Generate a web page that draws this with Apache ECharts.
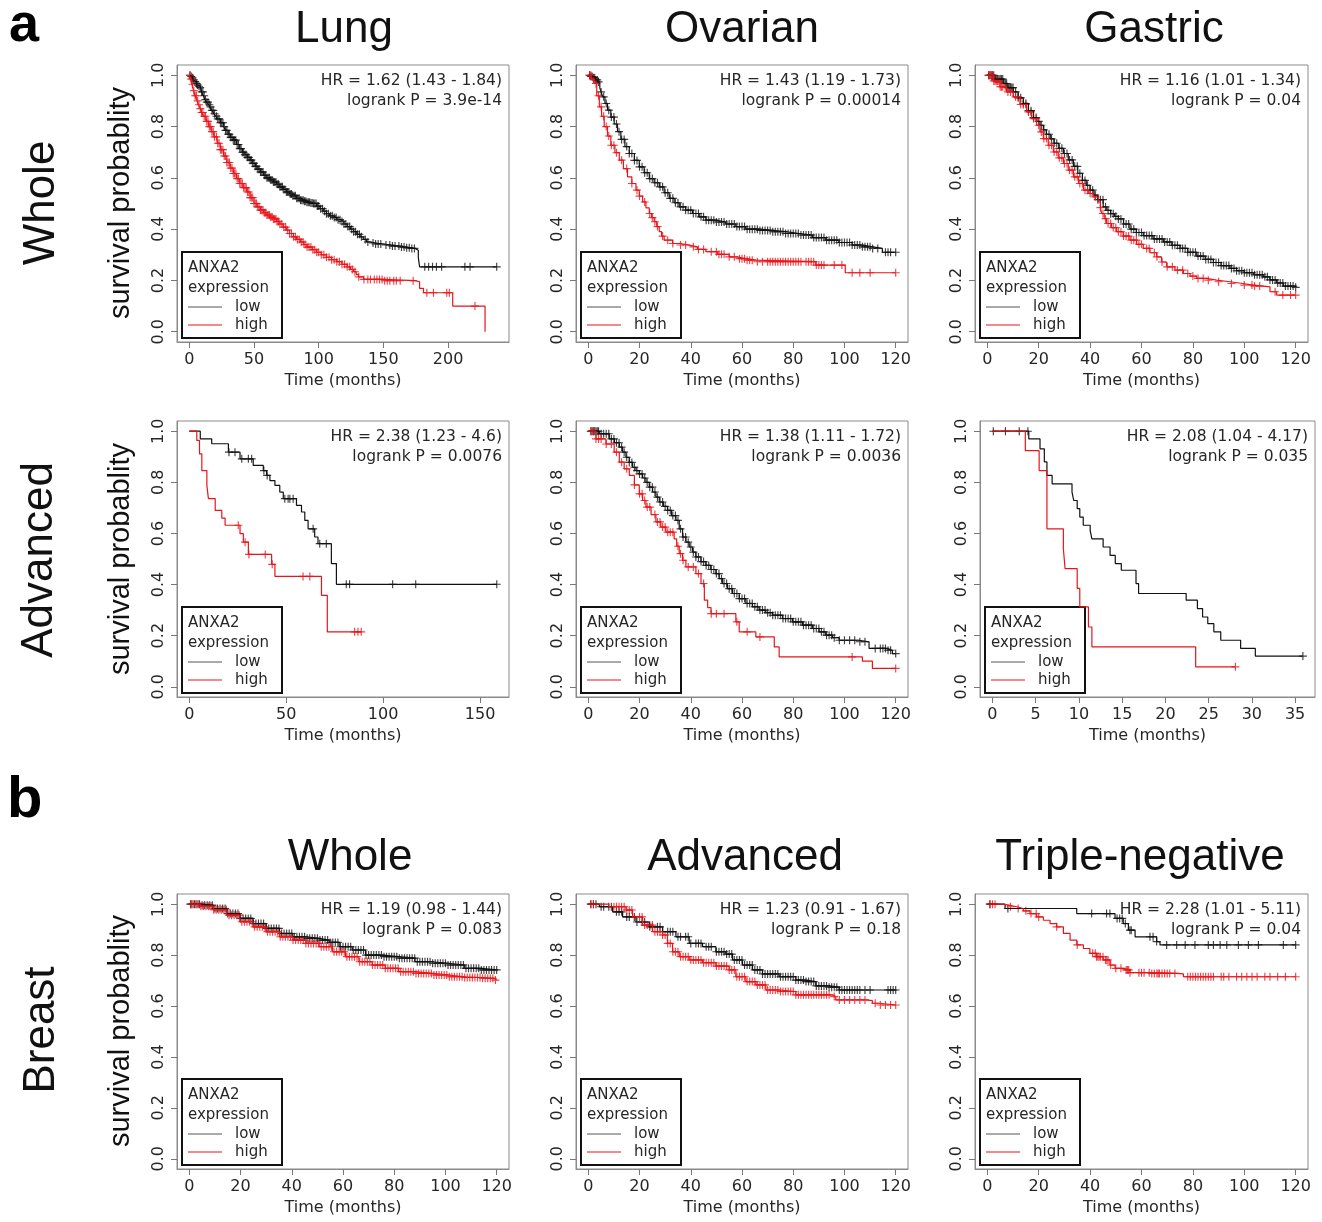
<!DOCTYPE html>
<html style="height: 100%;">
  <head>
    <meta charset="utf-8" />
    <script src="https://cdn.jsdelivr.net/npm/echarts/dist/echarts.min.js"></script>
  </head>
  <body style="height: 100%; margin: 0; background: #fff;">
    <div id="container" style="width: 1322px; height: 1222px;"></div>
    <script type="text/javascript">
      // ---- data: [time in months, survival] at each step ----
      var lungWholeLow = [[0,1],[1,0.995],[2,0.99],[3,0.982],[4,0.975],[5,0.968],[6,0.962],[7,0.957],[8.5,0.952],[9.5,0.935],[11,0.92],[12,0.905],[13.5,0.895],[15,0.885],[16,0.877],[17.5,0.863],[19,0.85],[20.5,0.84],[22,0.83],[24,0.815],[26.5,0.80],[28,0.785],[30,0.77],[32,0.758],[34,0.747],[36.5,0.73],[39,0.714],[41,0.70],[43,0.69],[45,0.68],[47,0.669],[49,0.657],[51,0.645],[53,0.634],[55,0.623],[57.5,0.61],[60,0.60],[62.5,0.592],[65,0.584],[67.5,0.575],[70,0.565],[72.5,0.555],[75,0.545],[77.5,0.537],[80,0.53],[83,0.52],[86,0.513],[88.5,0.509],[91,0.505],[93.5,0.502],[96,0.50],[98.5,0.49],[101,0.48],[103.5,0.47],[106,0.46],[108.5,0.452],[111,0.445],[114,0.437],[117,0.43],[119.5,0.42],[122,0.41],[124.5,0.40],[127,0.39],[129.5,0.38],[132,0.37],[134.5,0.36],[137,0.35],[140,0.346],[144,0.342],[150,0.338],[156,0.334],[163,0.33],[168,0.327],[172,0.325],[174.5,0.318],[177,0.29],[178,0.253],[237.6,0.253]];
      var lungWholeHigh = [[0,1],[1,0.985],[2,0.965],[3.3,0.94],[4.5,0.92],[6,0.90],[7,0.885],[8.5,0.87],[9.5,0.855],[11,0.84],[13,0.82],[15,0.80],[17,0.78],[19,0.76],[21.5,0.735],[24,0.71],[26.5,0.685],[29,0.66],[31.5,0.638],[34,0.617],[36.5,0.597],[39,0.578],[41.5,0.562],[44.5,0.545],[47,0.523],[50,0.50],[52.5,0.487],[55,0.474],[57.5,0.464],[60,0.455],[62.5,0.447],[65,0.44],[67.5,0.43],[70,0.42],[72.5,0.408],[75,0.396],[77.5,0.383],[80.5,0.37],[83,0.36],[86,0.35],[88.5,0.34],[91,0.33],[95,0.32],[98.5,0.31],[102,0.30],[106,0.29],[110,0.281],[114,0.273],[118,0.263],[122,0.253],[124.5,0.243],[127,0.234],[129,0.224],[130.7,0.214],[134.6,0.204],[150,0.199],[174.5,0.195],[178,0.169],[181,0.152],[203.6,0.10],[228.6,0]];
      var lungWholeLowCens = [0.5,1.5,2.5,3.5,4.5,5.5,6.5,7.5,8.5,9.5,10.5,11.5,12.5,13.5,14.5,15.5,16.5,17.5,18.5,19.5,21,22,23,24,25,26,27,28,29,30,31,32,33,34,35,36,37,38,39,40,41,42,43,44,45,46,47,48,49,50,51,52,53,54,55,56,57,58,59,60,61,62,63,64,65,66,67,68,69,70,71,72,73,74,75,76,77,78,79,80,81,82,83,84,85,86,87,88,89,90,91,92,93,94,95,96,97,98,99,100,101.5,103,104.5,106,107.5,109,110.5,112,113.5,115,116.5,118,119.5,121,122.5,124,125.5,127,128.5,130,131.5,133,136,138,142,144,146,148,152,155,157,159,162,164,166,168,170,172,174,182,185,188,191,195,213,217,237.6];
      var lungWholeHighCens = [0.5,1.5,2.5,3.5,4.5,5.5,6.5,7.5,8.5,9.5,10.5,11.5,12.5,13.5,14.5,15.5,16.5,17.5,18.5,19.5,21,22,23,24,25,26,27,28,29,30,31,32,33,34,35,36,37,38,39,40,41,42,43,44,45,46,47,48,49,50,51,52,53,54,55,56,57,58,59,60,61,62,63,64,65,66,67,68,69,70,71.5,73,74.5,76,77.5,79,80.5,82,83.5,85,86.5,88,89.5,91,92.5,94,95.5,97,98.5,100,102,104,106,108,110,112,114,116,118,120,122,124,126,128,131,135,138,140,143,145,147,149,151,153,155,158,160,163,173,183.6,188.7,199,201,220.8];

      var ovWholeLow = [[0,1],[1,0.995],[2,0.99],[2.8,0.982],[3.6,0.974],[4.5,0.95],[5,0.935],[5.6,0.916],[6.5,0.89],[7.5,0.864],[8.8,0.837],[10.1,0.81],[11.4,0.78],[12.7,0.75],[14.3,0.722],[16,0.695],[18,0.668],[19.9,0.643],[21.8,0.62],[23.8,0.597],[25.7,0.581],[27.7,0.565],[29.6,0.542],[31.6,0.52],[33.5,0.503],[35.5,0.487],[38,0.474],[40.7,0.461],[43.3,0.448],[45.9,0.435],[49.8,0.428],[53.7,0.42],[57.6,0.41],[61.5,0.40],[66.7,0.395],[71.9,0.39],[77,0.383],[82.3,0.377],[87.5,0.367],[92.7,0.357],[97.8,0.348],[103,0.338],[107,0.331],[111,0.325],[114.8,0.31],[120,0.31]];
      var ovWholeHigh = [[0,1],[1.2,0.985],[2.3,0.968],[3.3,0.92],[4.3,0.877],[5.2,0.84],[6.2,0.80],[7.5,0.763],[8.8,0.727],[10.4,0.698],[12.1,0.669],[13.7,0.636],[15.3,0.604],[17,0.578],[18.6,0.552],[19.9,0.529],[21.2,0.506],[22.5,0.483],[23.8,0.461],[24.7,0.445],[25.7,0.429],[26.7,0.41],[27.7,0.39],[28.6,0.373],[29.6,0.357],[32.9,0.344],[36,0.338],[39.4,0.331],[42.6,0.321],[45.9,0.312],[50.5,0.302],[55,0.292],[58,0.285],[61.5,0.279],[65.4,0.273],[88.8,0.26],[100.3,0.23],[120,0.23]];
      var ovWholeLowCens = [0.5,1,1.5,2,2.5,3,3.5,4,5,6,7,8,9,10,11,12,13,14,15,16,17,18,19,20,21,22,23,24,25,26,27,28,29,30,31,32,33,34,35,36,37,38,39,40,41,42,43,44,45,46,47,48,49,50,51,52,53,54,55,56,57,58,59,60,61,62,63,64,65,66,67,68,69,70,71,72,73,74,75,76,77,78,79,80,81,82,83,84,85,86,87,88,89,90,91,92,93,94,95,96,97,98,99,100,101,102,103,104,105,106,107,108,109,110,111,113,116,117,118,120];
      var ovWholeHighCens = [0.5,1,2,3,4,5,6,7,8,9,10,11,13,15,17,19,20,22,24,25,26,27,29,31,33,36,38,41,43,45,48,50,51,52,53,55,57,59,60,61,62,63,64,66,68,70,71,72,73,74,75,76,77,78,79,80,81,82,83,85,86,87,88,89,90,91,92,96,99,103,106,110,120];

      var gaWholeLow = [[0,1],[3,0.985],[6.2,0.968],[8,0.952],[10.1,0.935],[12,0.912],[14,0.89],[16,0.862],[17.9,0.835],[19.2,0.82],[20.5,0.805],[21.8,0.787],[23,0.77],[24.5,0.752],[26,0.735],[27.8,0.715],[29.6,0.695],[31.5,0.67],[33.5,0.645],[35.2,0.618],[37,0.59],[38.5,0.571],[40,0.552],[41.5,0.533],[43,0.515],[45.1,0.487],[46.5,0.473],[48,0.46],[49.5,0.45],[51,0.44],[53,0.42],[55.5,0.40],[58,0.387],[60.7,0.375],[64.5,0.362],[68.5,0.35],[71.8,0.337],[75,0.325],[78,0.31],[81.5,0.295],[84.8,0.282],[88,0.27],[91,0.258],[94.4,0.247],[97,0.238],[100,0.23],[103.7,0.222],[107.4,0.214],[110,0.202],[112.6,0.19],[115.2,0.178],[120,0.173]];
      var gaWholeHigh = [[0,1],[2.5,0.978],[4.9,0.955],[7.5,0.935],[10.1,0.916],[12.7,0.886],[15.3,0.857],[17.2,0.831],[19.2,0.805],[20.5,0.779],[21.8,0.753],[23.7,0.727],[25.7,0.701],[27.6,0.678],[29.6,0.656],[31.5,0.63],[33.5,0.604],[35.5,0.578],[37.4,0.552],[39.3,0.539],[41.2,0.526],[43.2,0.506],[44,0.484],[44.5,0.461],[45.5,0.441],[46.4,0.422],[48.3,0.406],[50.3,0.39],[52.9,0.373],[55.5,0.357],[58.1,0.341],[60.7,0.325],[63.3,0.308],[65.9,0.292],[67.8,0.272],[69.8,0.253],[73,0.24],[76.3,0.227],[78.9,0.217],[81.5,0.208],[85.3,0.201],[89.2,0.195],[94.4,0.188],[99.6,0.182],[103.5,0.178],[107.4,0.175],[110,0.156],[112.6,0.143],[120,0.143]];
      var gaWholeLowCens = [0.5,1,1.5,2,2.5,3,3.5,4,4.5,5,5.5,6,6.5,7,7.5,8,8.5,9,9.5,10,11,12,13,14,15,16,17,18,19,20,21,22,23,24,25,26,27,28,29,30,31,32,33,34,35,36,37,38,39,40,41,42,43,44,45,46,47,48,49,50,51,52,53,54,55,56,57,58,59,60,61,62,63,64,65,66,67,68,69,70,71,72,73,74,75,76,77,78,79,80,81,82,83,84,85,86,87,88,89,90,91,92,93,94,95,96,97,98,99,100,101,102,103,104,105,106,107,108,109,110,111,112,113,114,115,116,117,118,119,120];
      var gaWholeHighCens = [0.5,1,1.5,2,2.5,3,3.5,4,4.5,5,5.5,6,7,8,9,10,11,12,13,14,15,16,17,18,19,20,21,22,23,24,25,26,27,28,29,30,31,32,33,34,35,36,37,38,39,40,42,44,45,46,47,48,49,50,51,52,53,54,55,56,57,58,59,60,62,63,65,66,68,70,72,74,76,78,80,82,84,86,90,95,100,103,104,106,112,115,118,120];

      var luAdvLow = [[0,1],[5.7,0.97],[11.6,0.951],[20.2,0.918],[26.2,0.892],[33,0.866],[38.2,0.846],[39.9,0.827],[41.6,0.807],[44.2,0.788],[46.7,0.762],[48.5,0.736],[55.3,0.71],[57.9,0.684],[59.6,0.651],[61.3,0.618],[64.7,0.586],[66.4,0.56],[73.3,0.482],[75.9,0.401],[158.6,0.401]];
      var luAdvHigh = [[0,1],[3.9,0.964],[5.3,0.911],[6.5,0.846],[9.1,0.788],[9.9,0.736],[13.4,0.69],[16.8,0.66],[18.5,0.632],[26.2,0.599],[27.9,0.566],[30.5,0.518],[42.5,0.479],[44.2,0.432],[68.2,0.358],[71.2,0.215],[88.7,0.215]];
      var luAdvLowCens = [20.5,23.6,27.1,30.5,32.2,38.5,40.2,49.3,51,51.9,53.6,63.9,67.3,70.7,81,82.7,104.9,116.8,158.6];
      var luAdvHighCens = [25.3,28.8,30.8,39.2,42.8,58.7,62.2,85.3,87,88.7];

      var ovAdvLow = [[0,1],[4.3,0.99],[8.2,0.97],[10.2,0.955],[12.1,0.9375],[13.4,0.918],[14.7,0.898],[16,0.878],[17.3,0.859],[18.6,0.846],[19.9,0.833],[21.2,0.817],[22.5,0.80],[23.8,0.781],[25.1,0.762],[26.4,0.742],[27.7,0.723],[29.3,0.706],[30.9,0.69],[32.5,0.67],[34.2,0.651],[35.5,0.618],[36.8,0.586],[38.1,0.566],[39.4,0.547],[40.7,0.527],[42,0.508],[44,0.49],[45.9,0.475],[47.8,0.459],[49.8,0.443],[51.1,0.423],[52.4,0.404],[54.3,0.384],[56.3,0.365],[58.9,0.345],[61.5,0.326],[64.1,0.313],[66.7,0.30],[69.3,0.29],[71.9,0.28],[75.8,0.267],[79.7,0.254],[83.6,0.241],[87.5,0.228],[90.1,0.215],[92.7,0.202],[95.3,0.192],[97.9,0.182],[105.7,0.176],[109.6,0.15],[116.1,0.143],[118.7,0.13],[120,0.13]];
      var ovAdvHigh = [[0,1],[3,0.97],[6.9,0.95],[10.1,0.918],[12.1,0.879],[14,0.853],[16,0.827],[18,0.79],[19.9,0.755],[21.2,0.729],[22.5,0.703],[24.5,0.674],[26.4,0.645],[28.3,0.625],[30.3,0.605],[33.5,0.579],[34.5,0.55],[35.5,0.521],[36.8,0.495],[38.1,0.469],[42,0.443],[44,0.404],[45.3,0.339],[46.6,0.31],[47.9,0.286],[57.6,0.254],[58.9,0.215],[65.4,0.195],[72.6,0.156],[74.5,0.117],[107,0.10],[110.9,0.072],[120,0.072]];
      var ovAdvLowCens = [1,1.5,2,2.5,3,3.5,4,5,6,7,8,9,10,11,12,13,14,15,16,17,18,19,20,21,22,23,24,25,26,27,28,29,30,31,32,33,34,35,36,37,38,39,40,41,42,43,44,45,46,47,48,49,50,51,52,53,54,55,56,57,58,59,60,61,62,63,64,65,66,67,68,69,70,71,72,73,74,75,76,77,78,79,80,81,82,83,84,85,86,87,88,89,90,91,92,93,94,95,96,98,100,102,104,106,108,112,114,115,116,117,118,120];
      var ovAdvHighCens = [1,2,3,4,5,7,9,11,13,15,18,20,21,22,23,24,26,27,28,29,30,31,32,33,35,36,37,39,41,43,45,48,50,53,58,62,67,103,120];

      var gaAdvLow = [[0,1],[4.2,0.97],[5.5,0.931],[6,0.88],[6.3,0.827],[6.9,0.794],[9.2,0.762],[9.4,0.729],[9.8,0.697],[10.1,0.664],[10.5,0.632],[11.3,0.612],[11.5,0.579],[12.8,0.547],[13.6,0.514],[14.2,0.482],[14.9,0.456],[16.6,0.404],[16.9,0.365],[22.4,0.339],[23.7,0.306],[24.3,0.273],[24.9,0.247],[25.6,0.215],[26.4,0.182],[28.7,0.15],[30.4,0.12],[35.9,0.12]];
      var gaAdvHigh = [[0,1],[3.8,0.924],[5.4,0.846],[6.3,0.618],[8.2,0.54],[8.4,0.462],[9.8,0.385],[10.1,0.3125],[11.1,0.234],[11.5,0.156],[23.5,0.078],[28.1,0.078]];
      var gaAdvLowCens = [0.1,1.5,3.1,4.1,35.9];
      var gaAdvHighCens = [28.1];

      var brWholeLow = [[0,1],[4.3,0.996],[9.4,0.983],[14.6,0.963],[19.7,0.944],[24.9,0.924],[30,0.905],[35.2,0.885],[40.4,0.872],[45.5,0.866],[50.7,0.859],[54.6,0.85],[58.5,0.833],[63.6,0.82],[68.8,0.80],[75.2,0.794],[81.7,0.788],[88.1,0.774],[94.6,0.768],[101,0.761],[107.5,0.748],[113.9,0.742],[120,0.742]];
      var brWholeHigh = [[0,1],[4.3,0.992],[9.4,0.978],[14.6,0.957],[19.7,0.931],[24.9,0.911],[30,0.892],[35.2,0.872],[40.4,0.859],[45.5,0.846],[50.7,0.833],[55.9,0.813],[61,0.794],[66.2,0.774],[71.4,0.761],[76.5,0.748],[81.7,0.735],[88.1,0.728],[94.6,0.722],[101,0.715],[107.5,0.712],[113.9,0.709],[119,0.702],[120,0.702]];
      var brWholeLowCens = [0.5,1,2,3,4,5,6,7,8,9,10,11,12,13,14,15,16,17,18,19,20,21,22,23,24,25,26,27,28,29,30,31,32,33,34,35,36,37,38,39,40,41,42,43,44,45,46,47,48,49,50,51,52,53,54,55,56,57,58,59,60,61,62,63,64,65,66,67,68,69,70,71,72,73,74,75,76,77,78,79,80,81,82,83,84,85,86,87,88,89,90,91,92,93,94,95,96,97,98,99,100,101,102,103,104,105,106,107,108,109,110,111,112,113,114,115,116,117,118,119,120];
      var brWholeHighCens = [0.5,1.5,2.5,3.5,4.5,5.5,6.5,7.5,8.5,9.5,10.5,11.5,12.5,13.5,14.5,15.5,16.5,17.5,18.5,19.5,20.5,21.5,22.5,23.5,24.5,25.5,26.5,27.5,28.5,29.5,30.5,31.5,32.5,33.5,34.5,35.5,36.5,37.5,38.5,39.5,40.5,41.5,42.5,43.5,44.5,45.5,46.5,47.5,48.5,49.5,50.5,51.5,52.5,53.5,54.5,55.5,56.5,57.5,58.5,59.5,60.5,61.5,62.5,63.5,64.5,65.5,66.5,67.5,68.5,69.5,70.5,71.5,72.5,73.5,74.5,75.5,76.5,77.5,78.5,79.5,80.5,81.5,82.5,83.5,84.5,85.5,86.5,87.5,88.5,89.5,90.5,91.5,92.5,93.5,94.5,95.5,96.5,97.5,98.5,99.5,100.5,101.5,102.5,103.5,104.5,105.5,106.5,107.5,108.5,109.5,110.5,111.5,112.5,113.5,114.5,115.5,116.5,117.5,118.5,119.5];

      var brAdvLow = [[0,1],[4.3,0.99],[9.5,0.97],[13.4,0.95],[18.6,0.93],[23.8,0.911],[29,0.892],[34.2,0.872],[39.4,0.846],[44.6,0.833],[49.8,0.813],[53.7,0.804],[56.3,0.781],[60.2,0.761],[64.1,0.742],[68,0.726],[74.5,0.715],[81,0.702],[84.9,0.696],[88.8,0.679],[94,0.674],[97.9,0.663],[120,0.663]];
      var brAdvHigh = [[0,1],[8,0.99],[14.7,0.977],[17.3,0.95],[21.2,0.918],[25.1,0.892],[29,0.879],[30.9,0.846],[32.9,0.813],[35.5,0.794],[39.4,0.781],[44.6,0.77],[49.8,0.757],[55,0.742],[57.6,0.715],[61.5,0.696],[65.4,0.683],[69.3,0.663],[74.5,0.657],[81,0.644],[95.3,0.637],[96.6,0.624],[108.3,0.621],[110.9,0.611],[113.5,0.604],[120,0.604]];
      var brAdvLowCens = [1,2,3,5,6,8,9,11,12,13,15,16,18,19,21,22,24,25,27,28,29,31,32,33,35,36,38,39,40,42,43,44,46,47,48,50,51,52,53,54,55,56,57,58,59,60,61,62,63,64,65,66,67,68,69,70,71,72,73,74,75,76,77,78,79,80,81,82,83,84,85,86,87,88,89,90,91,92,93,94,95,96,97,98,99,100,101,102,103,104,105,106,108,110,117,118,119,120];
      var brAdvHighCens = [1,2,10,11,12,13,14,15,16,17,18,20,21,22,23,24,25,26,27,28,29,30,31,32,33,34,35,36,37,38,39,40,41,42,43,44,45,46,47,48,49,50,51,52,53,54,55,56,57,58,59,60,61,62,63,64,65,66,67,68,69,70,71,72,73,74,75,76,77,78,79,80,81,82,83,84,85,86,87,88,89,90,91,92,93,94,96,98,100,102,104,106,108,112,114,116,118,120];

      var tnLow = [[0,1],[6.9,0.983],[34.8,0.963],[49.7,0.944],[52.9,0.924],[54.9,0.898],[57.5,0.872],[65.9,0.853],[67.2,0.84],[120,0.84]];
      var tnHigh = [[0,1],[6,0.995],[8.8,0.99],[11.4,0.983],[14,0.974],[16.6,0.963],[19.2,0.95],[21.8,0.937],[24.4,0.924],[27,0.911],[29.6,0.885],[32.2,0.859],[34.8,0.84],[37.4,0.826],[39.9,0.807],[42.5,0.794],[45.1,0.781],[47.7,0.761],[49.7,0.748],[52.9,0.742],[55.5,0.731],[63.3,0.728],[73.7,0.726],[76.3,0.715],[120,0.715]];
      var tnLowCens = [1,8,40.6,46.4,47.7,50.5,51.5,52.5,53.7,55.5,56,63.3,64.5,65.9,69.8,73.7,77,80.8,86,88,90.6,93.2,97.7,101.6,105.5,115.2,120];
      var tnHighCens = [1,2,3,9,12,15,17,19,20,27,35,41,42,42.5,43,43.5,44,45,46,46.5,47,48,50,52,54,54.5,55,55.5,59,60,61,63,64,65,66,66.5,67,68,69,70,71,73,78,79,80,81,82,83,84,85,86,87,88,91,92,94,97,99,101,103,105,108,110,113,116,120];

      // ---- labels ----
      var hrText = ["HR = 1.62 (1.43 - 1.84)", "HR = 1.43 (1.19 - 1.73)", "HR = 1.16 (1.01 - 1.34)",
                    "HR = 2.38 (1.23 - 4.6)", "HR = 1.38 (1.11 - 1.72)", "HR = 2.08 (1.04 - 4.17)",
                    "HR = 1.19 (0.98 - 1.44)", "HR = 1.23 (0.91 - 1.67)", "HR = 2.28 (1.01 - 5.11)"];
      var pText = ["logrank P = 3.9e-14", "logrank P = 0.00014", "logrank P = 0.04",
                   "logrank P = 0.0076", "logrank P = 0.0036", "logrank P = 0.035",
                   "logrank P = 0.083", "logrank P = 0.18", "logrank P = 0.04"];
      var colTitles = ["Lung", "Ovarian", "Gastric", "Whole", "Advanced", "Triple-negative"];
      var rowTitles = ["Whole", "Advanced", "Breast"];
      var yTicks = [0, 0.2, 0.4, 0.6, 0.8, 1.0];
      var xTicks120 = [0, 20, 40, 60, 80, 100, 120];
      var xTicksLung = [0, 50, 100, 150, 200];
      var xTicksLungAdv = [0, 50, 100, 150];
      var xTicksGaAdv = [0, 5, 10, 15, 20, 25, 30, 35];

      // ---- layout ----
      var panels = [
        { box: [177, 65, 332, 277], x: [-9.5, 247.1], ticks: xTicksLung, low: lungWholeLow, high: lungWholeHigh, lc: lungWholeLowCens, hc: lungWholeHighCens },
        { box: [576, 65, 332, 277], x: [-4.8, 124.8], ticks: xTicks120, low: ovWholeLow, high: ovWholeHigh, lc: ovWholeLowCens, hc: ovWholeHighCens },
        { box: [975, 65, 333, 277], x: [-4.8, 124.8], ticks: xTicks120, low: gaWholeLow, high: gaWholeHigh, lc: gaWholeLowCens, hc: gaWholeHighCens },
        { box: [177, 421, 332, 276], x: [-6.3, 164.9], ticks: xTicksLungAdv, low: luAdvLow, high: luAdvHigh, lc: luAdvLowCens, hc: luAdvHighCens },
        { box: [576, 421, 332, 276], x: [-4.8, 124.8], ticks: xTicks120, low: ovAdvLow, high: ovAdvHigh, lc: ovAdvLowCens, hc: ovAdvHighCens },
        { box: [980, 421, 335, 276], x: [-1.44, 37.3], ticks: xTicksGaAdv, low: gaAdvLow, high: gaAdvHigh, lc: gaAdvLowCens, hc: gaAdvHighCens },
        { box: [177, 894, 332, 275], x: [-4.8, 124.8], ticks: xTicks120, low: brWholeLow, high: brWholeHigh, lc: brWholeLowCens, hc: brWholeHighCens },
        { box: [576, 894, 332, 275], x: [-4.8, 124.8], ticks: xTicks120, low: brAdvLow, high: brAdvHigh, lc: brAdvLowCens, hc: brAdvHighCens },
        { box: [975, 894, 333, 275], x: [-4.8, 124.8], ticks: xTicks120, low: tnLow, high: tnHigh, lc: tnLowCens, hc: tnHighCens }
      ];

      var LOW = "#111111";
      var HIGH = "#e8141a";
      var TXT = "#262626";
      var R_FONT = "DejaVu Sans";
      var H_FONT = "Liberation Sans";
      var PLUS = "path://M3,0h1v3h3v1h-3v3h-1v-3h-3v-1h3z";

      function survAt(curve, t) {
        var s = 1;
        for (var i = 0; i < curve.length; i++) {
          if (curve[i][0] <= t) s = curve[i][1];
        }
        return s;
      }

      var grids = [], xAxes = [], yAxes = [], series = [], graphics = [];

      panels.forEach(function (p, i) {
        var b = p.box;
        grids.push({ left: b[0], top: b[1], width: b[2], height: b[3], show: true, borderColor: "#8a8a8a", borderWidth: 1, containLabel: false });
        xAxes.push({
          gridIndex: i, type: "value", min: p.x[0], max: p.x[1],
          name: "Time (months)", nameLocation: "middle", nameGap: 31,
          nameTextStyle: { fontFamily: R_FONT, fontSize: 16, color: TXT },
          axisLine: { show: true, onZero: false, lineStyle: { color: "#8a8a8a" } },
          axisTick: { show: true, length: 6, customValues: p.ticks, lineStyle: { color: "#777" } },
          axisLabel: { customValues: p.ticks, margin: 10, fontFamily: R_FONT, fontSize: 16, color: TXT },
          splitLine: { show: false }
        });
        yAxes.push({
          gridIndex: i, type: "value", min: -0.04, max: 1.04,
          axisLine: { show: true, onZero: false, lineStyle: { color: "#8a8a8a" } },
          axisTick: { show: true, length: 6, customValues: yTicks, lineStyle: { color: "#777" } },
          axisLabel: { customValues: yTicks, rotate: 90, margin: 10, fontFamily: R_FONT, fontSize: 16, color: TXT,
                       formatter: function (v) { return v.toFixed(1); } },
          splitLine: { show: false }
        });
        [[p.low, p.lc, LOW], [p.high, p.hc, HIGH]].forEach(function (g) {
          series.push({
            type: "line", xAxisIndex: i, yAxisIndex: i, step: "end", showSymbol: false,
            data: g[0], lineStyle: { color: g[2], width: 1.2 }, itemStyle: { color: g[2] }, silent: true
          });
          series.push({
            type: "scatter", xAxisIndex: i, yAxisIndex: i, symbol: PLUS, symbolSize: 8,
            data: g[1].map(function (t) { return [t, survAt(g[0], t)]; }),
            itemStyle: { color: g[2] }, silent: true
          });
        });

        // HR / logrank text, top right inside the box
        var rx = b[0] + b[2] - 7;
        graphics.push({ type: "text", x: rx, y: b[1] + 16, style: { text: hrText[i], fill: TXT, font: "15.5px '" + R_FONT + "'", textAlign: "right", textVerticalAlign: "middle" } });
        graphics.push({ type: "text", x: rx, y: b[1] + 36, style: { text: pText[i], fill: TXT, font: "15.5px '" + R_FONT + "'", textAlign: "right", textVerticalAlign: "middle" } });

        // legend box, bottom left inside the box
        var lx = b[0] + 5, ly = b[1] + b[3] - 4 - 86;
        graphics.push({ type: "rect", shape: { x: lx, y: ly, width: 100, height: 86 }, style: { fill: "#fff", stroke: "#111", lineWidth: 2 } });
        [["ANXA2", 16], ["expression", 36]].forEach(function (t) {
          graphics.push({ type: "text", x: lx + 6, y: ly + t[1], style: { text: t[0], fill: TXT, font: "15px '" + R_FONT + "'", textAlign: "left", textVerticalAlign: "middle" } });
        });
        [["low", 55, "#555"], ["high", 73, HIGH]].forEach(function (t) {
          graphics.push({ type: "line", shape: { x1: lx + 6, y1: ly + t[1], x2: lx + 40, y2: ly + t[1] }, style: { stroke: t[2], lineWidth: 1 } });
          graphics.push({ type: "text", x: lx + 53, y: ly + t[1], style: { text: t[0], fill: TXT, font: "15px '" + R_FONT + "'", textAlign: "left", textVerticalAlign: "middle" } });
        });
      });

      // column titles
      var titlePos = [[344, 30], [742, 30], [1154, 30], [350, 858], [745, 858], [1140, 858]];
      colTitles.forEach(function (t, k) {
        graphics.push({ type: "text", x: titlePos[k][0], y: titlePos[k][1], style: { text: t, fill: "#111", font: "44px '" + H_FONT + "'", textAlign: "center", textVerticalAlign: "middle" } });
      });
      // row titles (vertical)
      var rowPos = [[42, 203], [40, 560], [42, 1030]];
      rowTitles.forEach(function (t, k) {
        graphics.push({ type: "text", x: rowPos[k][0], y: rowPos[k][1], rotation: Math.PI / 2, style: { text: t, fill: "#111", font: "44px '" + H_FONT + "'", textAlign: "center", textVerticalAlign: "middle" } });
      });
      // y axis names on the left column
      [203, 559, 1031].forEach(function (yc) {
        graphics.push({ type: "text", x: 121, y: yc, rotation: Math.PI / 2, style: { text: "survival probablity", fill: "#111", font: "29px '" + H_FONT + "'", textAlign: "center", textVerticalAlign: "middle" } });
      });
      // panel letters
      graphics.push({ type: "text", x: 9, y: 26, style: { text: "a", fill: "#000", font: "bold 54px '" + H_FONT + "'", textAlign: "left", textVerticalAlign: "middle" } });
      graphics.push({ type: "text", x: 7, y: 801, style: { text: "b", fill: "#000", font: "bold 58px '" + H_FONT + "'", textAlign: "left", textVerticalAlign: "middle" } });

      var myChart = echarts.init(document.getElementById("container"), null, { renderer: "canvas" });
      myChart.setOption({
        animation: false,
        backgroundColor: "#fff",
        grid: grids,
        xAxis: xAxes,
        yAxis: yAxes,
        series: series,
        graphic: graphics
      });
    </script>
  </body>
</html>
